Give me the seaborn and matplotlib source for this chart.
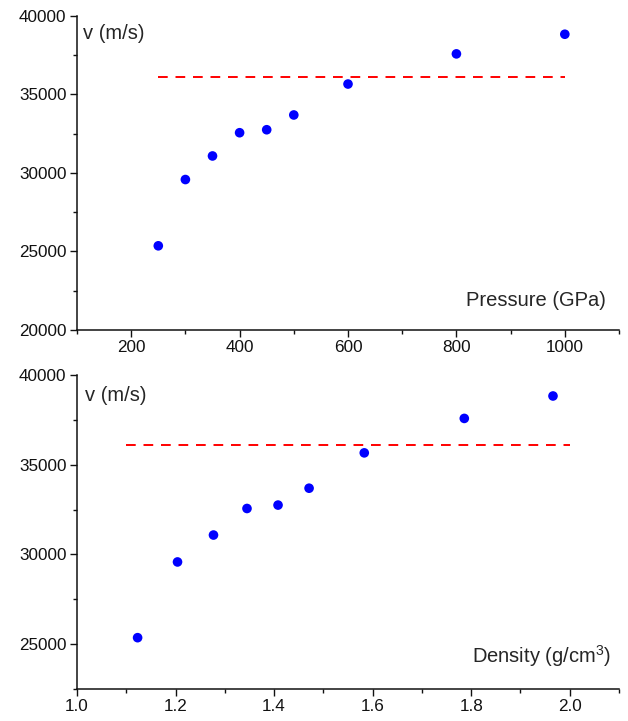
import numpy as np
import pandas as pd
import seaborn as sns
import matplotlib.pyplot as plt
from matplotlib.ticker import MultipleLocator

# data
pressure = [250, 300, 350, 400, 450, 500, 600, 800, 1000]
density = [1.123, 1.204, 1.277, 1.345, 1.408, 1.471, 1.583, 1.786, 1.966]
velocity = [25360, 29580, 31080, 32560, 32750, 33690, 35660, 37580, 38830]
limit_v = 36100
limit_p = [250, 1000]
limit_d = [1.1, 2.0]

sns.set_theme(style='ticks')
plt.rcParams['font.family'] = ['Liberation Sans', 'DejaVu Sans']
plt.rcParams['mathtext.fontset'] = 'custom'
plt.rcParams['mathtext.rm'] = 'Liberation Sans'

fig = plt.figure(figsize=(6.28, 7.21), dpi=100)
ax1 = fig.add_axes([0.1226, 0.5423, 0.8631, 0.4357])
ax2 = fig.add_axes([0.1226, 0.0444, 0.8631, 0.4355])

df = pd.DataFrame({'p': pressure, 'd': density, 'v': velocity})

def style(ax):
    sns.despine(ax=ax)
    for s in ['left', 'bottom']:
        ax.spines[s].set_linewidth(1.1)
        ax.spines[s].set_color('#111111')
    ax.tick_params(which='major', direction='out', length=5, width=1.0,
                   labelsize=12.3, colors='#111111', pad=2.5)
    ax.tick_params(which='minor', direction='out', length=3, width=1.0,
                   colors='#111111')
    ax.set_xlabel('')
    ax.set_ylabel('')

# top: pressure
sns.scatterplot(data=df, x='p', y='v', ax=ax1, color='#0000ff', s=48,
                edgecolor='none', zorder=3)
sns.lineplot(x=limit_p, y=[limit_v, limit_v], ax=ax1, color='#ff0000',
             linewidth=1.4, dashes=False)
ax1.lines[-1].set_dashes([5, 4])
ax1.set_xlim(100, 1100)
ax1.set_ylim(20000, 40000)
ax1.xaxis.set_major_locator(MultipleLocator(200))
ax1.xaxis.set_minor_locator(MultipleLocator(100))
ax1.yaxis.set_major_locator(MultipleLocator(5000))
ax1.yaxis.set_minor_locator(MultipleLocator(2500))
style(ax1)
ax1.text(0.012, 0.975, 'v (m/s)', transform=ax1.transAxes, fontsize=14.5,
         va='top', ha='left')
ax1.text(0.975, 0.065, 'Pressure (GPa)', transform=ax1.transAxes,
         fontsize=14.5, va='bottom', ha='right')

# bottom: density
sns.scatterplot(data=df, x='d', y='v', ax=ax2, color='#0000ff', s=48,
                edgecolor='none', zorder=3)
sns.lineplot(x=limit_d, y=[limit_v, limit_v], ax=ax2, color='#ff0000',
             linewidth=1.4, dashes=False)
ax2.lines[-1].set_dashes([5, 4])
ax2.set_xlim(1.0, 2.1)
ax2.set_ylim(22500, 40000)
ax2.xaxis.set_major_locator(MultipleLocator(0.2))
ax2.xaxis.set_minor_locator(MultipleLocator(0.1))
ax2.yaxis.set_major_locator(MultipleLocator(5000))
ax2.yaxis.set_minor_locator(MultipleLocator(2500))
ax2.xaxis.set_major_formatter(plt.FuncFormatter(lambda v, p: f'{v:.1f}'))
style(ax2)
ax2.text(0.015, 0.965, 'v (m/s)', transform=ax2.transAxes, fontsize=14.5,
         va='top', ha='left')
ax2.text(0.985, 0.065, r'Density (g/cm$^{\mathregular{3}}$)',
         transform=ax2.transAxes, fontsize=14.5, va='bottom', ha='right')

fig.savefig('out.png', dpi=100)
